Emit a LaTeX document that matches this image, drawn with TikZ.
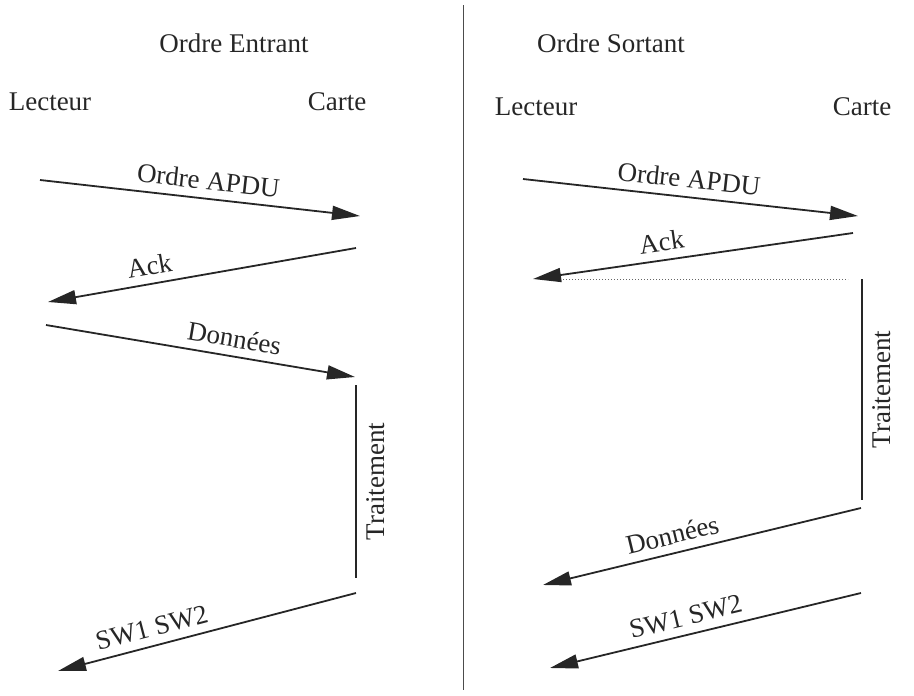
\documentclass[tikz,border=0pt]{standalone}
\usepackage{fontspec}
\setmainfont{Liberation Serif}
\usetikzlibrary{arrows.meta}
\begin{document}
\begin{tikzpicture}[x=1pt,y=-1pt,
  every node/.style={font=\fontsize{27}{32}\selectfont, text=black!85},
  msg/.style={line width=1.8pt, draw=black!85, -{Triangle[length=28pt,width=14pt]}},
  lbl/.style={above, sloped, inner sep=8pt},
  bar/.style={line width=1.8pt, draw=black!85}]
\useasboundingbox (0,0) rectangle (914,696);
% divider
\draw[line width=1pt, black!70] (463,5) -- (463,690);
% headings
\node (h1) at (234,43) {Ordre Entrant};
\node (h2) at (611,43) {Ordre Sortant};
\node (l1) at (50,102) {Lecteur};
\node (c1) at (337,102) {Carte};
\node (l2) at (536,107) {Lecteur};
\node (c2) at (862,107) {Carte};
% left coordinates
\coordinate (a1) at (40,180);  \coordinate (b1) at (360,216);
\coordinate (a2) at (356,248); \coordinate (b2) at (48,302);
\coordinate (a3) at (46,325);  \coordinate (b3) at (355,377);
\coordinate (t1) at (356,385); \coordinate (t2) at (356,578);
\coordinate (a5) at (356,593); \coordinate (b5) at (58,671);
\draw[msg] (a1) -- node[lbl, pos=0.52] {Ordre APDU} (b1);
\draw[msg] (a2) -- node[lbl, pos=0.66] {Ack} (b2);
\draw[msg] (a3) -- node[lbl, pos=0.6] {Données} (b3);
\draw[bar] (t1) -- node[rotate=90, anchor=north, inner sep=10pt] {Traitement} (t2);
\draw[msg] (a5) -- node[lbl, pos=0.67] {SW1 SW2} (b5);
% right coordinates
\coordinate (r1) at (523,179); \coordinate (s1) at (858,216);
\coordinate (r2) at (853,233); \coordinate (s2) at (533,279);
\coordinate (d1) at (563,279); \coordinate (d2) at (848,279);
\coordinate (u1) at (862,279); \coordinate (u2) at (862,500);
\coordinate (r4) at (861,508); \coordinate (s4) at (543,585);
\coordinate (r5) at (861,593); \coordinate (s5) at (550,668);
\draw[msg] (r1) -- node[lbl, pos=0.49] {Ordre APDU} (s1);
\draw[msg] (r2) -- node[lbl, pos=0.59] {Ack} (s2);
\draw[line width=1pt, black!60, dotted] (d1) -- (d2);
\draw[bar] (u1) -- node[rotate=90, anchor=north, inner sep=10pt] {Traitement} (u2);
\draw[msg] (r4) -- node[lbl, pos=0.58] {Données} (s4);
\draw[msg] (r5) -- node[lbl, pos=0.55] {SW1 SW2} (s5);
\end{tikzpicture}
\end{document}
